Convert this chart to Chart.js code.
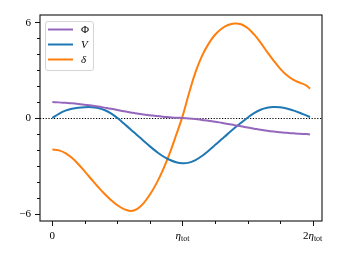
<!DOCTYPE html>
<html><head><meta charset="utf-8">
<script src="https://cdn.jsdelivr.net/npm/chart.js@4/dist/chart.umd.min.js"></script>
<style>html,body{margin:0;padding:0;background:#fff}</style>
</head><body>
<canvas id="c" width="341" height="256" style="width:341px;height:256px;display:block"></canvas>
<script>
// x in units of eta_tot
const etaValues = [0,0.05,0.1,0.15,0.2,0.25,0.3,0.35,0.4,0.45,0.5,0.55,0.6,0.65,0.7,0.75,0.8,0.85,0.9,0.95,1.0,1.05,1.1,1.15,1.2,1.25,1.3,1.35,1.4,1.45,1.5,1.55,1.6,1.65,1.7,1.75,1.8,1.85,1.9,1.95,1.98];
const phiValues = [1.0,0.98,0.95,0.92,0.88,0.83,0.78,0.72,0.65,0.58,0.5,0.42,0.35,0.28,0.22,0.17,0.12,0.08,0.05,0.02,0.0,-0.03,-0.07,-0.12,-0.17,-0.23,-0.3,-0.37,-0.45,-0.52,-0.6,-0.67,-0.74,-0.8,-0.85,-0.89,-0.93,-0.96,-0.99,-1.01,-1.03];
const vValues = [0,0.26,0.46,0.58,0.65,0.68,0.68,0.63,0.5,0.29,0.0,-0.35,-0.7,-1.06,-1.42,-1.78,-2.11,-2.4,-2.62,-2.77,-2.84,-2.8,-2.64,-2.38,-2.05,-1.7,-1.34,-0.98,-0.63,-0.3,0.02,0.31,0.52,0.64,0.69,0.67,0.6,0.48,0.33,0.16,0.06];
const deltaValues = [-1.98,-2.03,-2.2,-2.5,-2.9,-3.36,-3.84,-4.31,-4.75,-5.14,-5.47,-5.71,-5.83,-5.72,-5.35,-4.8,-4.1,-3.25,-2.25,-1.1,0.1,1.55,2.88,3.9,4.65,5.22,5.6,5.83,5.93,5.88,5.64,5.24,4.73,4.15,3.6,3.1,2.69,2.4,2.22,2.05,1.84];
const seriesLabels = ['Φ','V','δ'];
const yMajorTicks = [-6,0,6];
const yMajorLabels = ['−6','0','6'];
const yMinorTicks = [-5,-4,-3,-2,-1,1,2,3,4,5];
const xMajorTicks = [0,1,2];
const xMajorLabels = [['0','',''],['','η','tot'],['2','η','tot']];
const xMinorTicks = [0.25,0.5,0.75,1.25,1.5,1.75];

const colors = ['#9467bd','#1f77b4','#ff7f0e'];
const series = [phiValues, vValues, deltaValues];

const datasets = series.map((vals,i)=>({
  label: seriesLabels[i],
  data: etaValues.map((x,j)=>({x:x,y:vals[j]})),
  borderColor: colors[i],
  backgroundColor: colors[i],
  borderWidth: 2,
  pointRadius: 0,
  fill: false,
  tension: 0.4
}));

const SERIF = '"Liberation Serif", "DejaVu Serif", serif';

const zeroLine = {
  id:'zeroLine',
  beforeDatasetsDraw(chart){
    const ctx = chart.ctx, a = chart.chartArea, y = chart.scales.y.getPixelForValue(0);
    ctx.save();
    ctx.strokeStyle = '#000'; ctx.lineWidth = 1.2; ctx.setLineDash([1.2,1.6]);
    ctx.beginPath(); ctx.moveTo(a.left, Math.round(y)+0.5); ctx.lineTo(a.right, Math.round(y)+0.5); ctx.stroke();
    ctx.restore();
  }
};

const frame = {
  id:'frame',
  afterDraw(chart){
    const ctx = chart.ctx, a = chart.chartArea, xs = chart.scales.x, ys = chart.scales.y;
    ctx.save();
    ctx.strokeStyle = '#111'; ctx.lineWidth = 1.1;
    ctx.strokeRect(a.left, a.top, a.right-a.left, a.bottom-a.top);
    ctx.lineWidth = 1;
    ctx.beginPath();
    yMajorTicks.forEach(v=>{const y=Math.round(ys.getPixelForValue(v))+0.5; ctx.moveTo(a.left-5,y); ctx.lineTo(a.left,y);});
    yMinorTicks.forEach(v=>{const y=Math.round(ys.getPixelForValue(v))+0.5; ctx.moveTo(a.left-3,y); ctx.lineTo(a.left,y);});
    xMajorTicks.forEach(v=>{const x=Math.round(xs.getPixelForValue(v))+0.5; ctx.moveTo(x,a.bottom); ctx.lineTo(x,a.bottom+5);});
    xMinorTicks.forEach(v=>{const x=Math.round(xs.getPixelForValue(v))+0.5; ctx.moveTo(x,a.bottom); ctx.lineTo(x,a.bottom+3);});
    ctx.stroke();
    ctx.fillStyle = '#000';
    ctx.font = '11px ' + SERIF;
    ctx.textAlign = 'right'; ctx.textBaseline = 'middle';
    yMajorTicks.forEach((v,i)=>{ ctx.fillText(yMajorLabels[i], a.left-9, ys.getPixelForValue(v)+0.5); });
    ctx.textBaseline = 'alphabetic'; ctx.textAlign = 'left';
    const base = a.bottom + 18;
    xMajorTicks.forEach((v,i)=>{
      const [pre, it, sub] = xMajorLabels[i];
      ctx.font = '11px ' + SERIF; const w0 = ctx.measureText(pre).width;
      ctx.font = 'italic 11px ' + SERIF; const w1 = ctx.measureText(it).width;
      ctx.font = '8px ' + SERIF; const w2 = ctx.measureText(sub).width;
      let x0 = xs.getPixelForValue(v) - (w0+w1+w2)/2;
      ctx.font = '11px ' + SERIF; ctx.fillText(pre, x0, base);
      ctx.font = 'italic 11px ' + SERIF; ctx.fillText(it, x0+w0, base);
      ctx.font = '8px ' + SERIF; ctx.fillText(sub, x0+w0+w1, base+1.5);
    });
    // legend
    const lx = a.left+5, ly = a.top+6, lw = 48, lh = 49;
    ctx.beginPath();
    ctx.roundRect(lx+0.5, ly+0.5, lw, lh, 2.5);
    ctx.fillStyle = 'rgba(255,255,255,0.8)'; ctx.fill();
    ctx.strokeStyle = '#d4d4d4'; ctx.lineWidth = 1; ctx.stroke();
    chart.data.datasets.forEach((ds,i)=>{
      const y = ly + 8.5 + i*15;
      ctx.strokeStyle = ds.borderColor; ctx.lineWidth = 2;
      ctx.beginPath(); ctx.moveTo(lx+3, y); ctx.lineTo(lx+28, y); ctx.stroke();
      ctx.fillStyle = '#000';
      ctx.font = (i===0 ? '' : 'italic ') + '11px ' + SERIF;
      ctx.textAlign = 'left'; ctx.textBaseline = 'middle';
      ctx.fillText(ds.label, lx+36, y+0.5);
    });
    ctx.restore();
  }
};

new Chart(document.getElementById('c'), {
  type: 'line',
  data: { datasets },
  options: {
    responsive: false,
    devicePixelRatio: 1,
    animation: false,
    layout: { padding: { left: 0, right: 19, top: 15, bottom: 0 } },
    plugins: { legend: { display: false }, tooltip: { enabled: false } },
    scales: {
      x: { type: 'linear', min: -0.095, max: 2.072,
           ticks: { display: false }, grid: { display: false }, border: { display: false },
           afterFit(s){ s.height = 35; } },
      y: { type: 'linear', min: -6.46, max: 6.46,
           ticks: { display: false }, grid: { display: false }, border: { display: false },
           afterFit(s){ s.width = 40; } }
    }
  },
  plugins: [zeroLine, frame]
});
</script>
</body></html>
